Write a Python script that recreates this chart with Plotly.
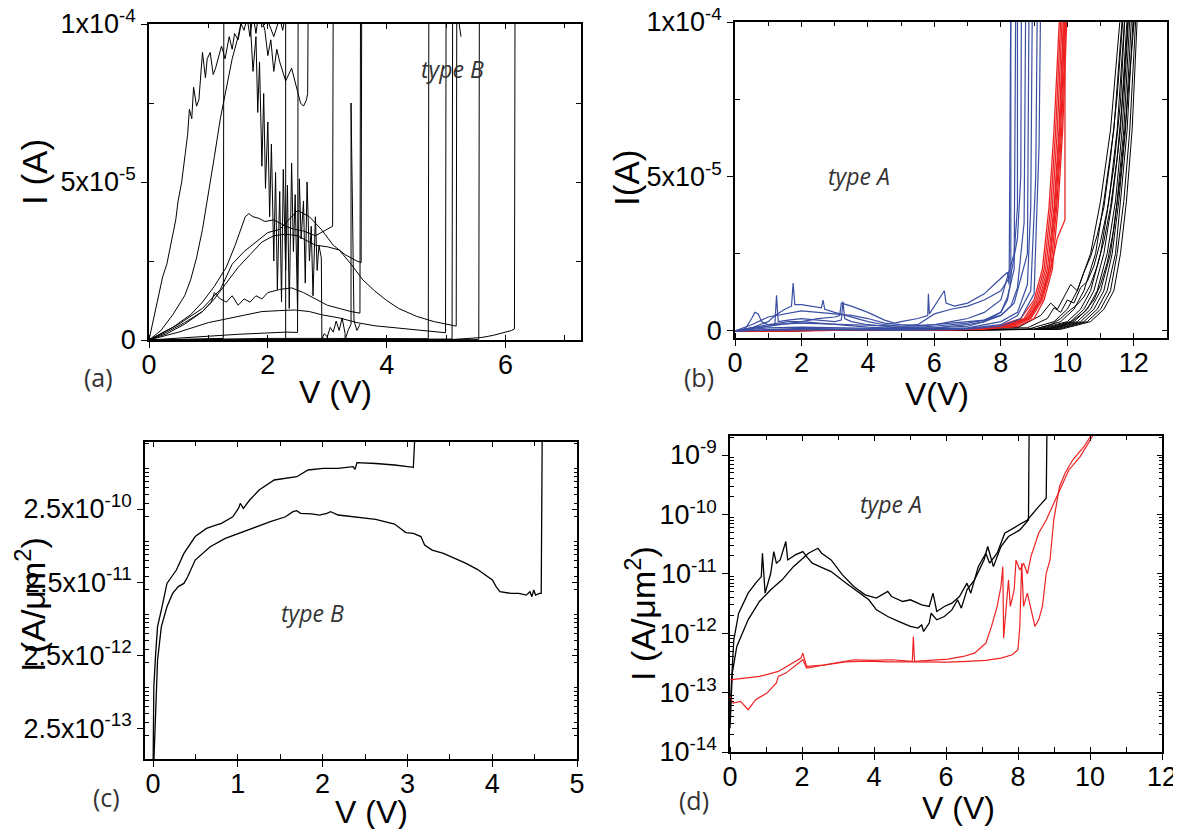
import plotly.graph_objects as go

W, H = 1181, 829          # reference picture size
OFF = 8                   # page body margin in the browser
FW, FH = W - OFF, H - OFF
TICKFONT = "Liberation Sans, Arial, sans-serif"
NOTEFONT = "Open Sans, Noto Sans, sans-serif"
BLACK = "#000000"
BLUE = "#3a4fa3"
RED = "#ee2222"

# ---------------- panel (a): type B, I in units of 1e-5 A ----------------
UNIT_A = 1e-5
a1_v = [0, 0.1, 0.23, 0.3, 0.39, 0.45, 0.49, 0.55, 0.61, 0.65, 0.68, 0.72, 0.75, 0.8, 0.84, 0.88, 0.9, 0.95, 0.98, 1.03, 1.08, 1.12, 1.17, 1.22, 1.28, 1.35, 1.4, 1.44, 1.5, 1.55, 1.6, 1.65, 1.7, 1.75, 1.8, 1.85, 1.9, 2.0, 2.1, 2.2, 2.25, 2.3, 2.3]
a1_i = [0, 0.9, 2.0, 2.4, 3.2, 3.8, 4.4, 5.0, 5.9, 6.5, 7.3, 7.0, 8.0, 7.4, 7.6, 8.8, 9.1, 8.3, 8.9, 9.1, 8.4, 8.6, 9.0, 9.3, 8.9, 9.6, 9.2, 9.7, 9.5, 10.0, 9.8, 10.2, 9.6, 10.3, 9.7, 10.4, 9.9, 10.1, 9.6, 10.2, 9.8, 10.3, 0]
a2_v = [0, 0.2, 0.4, 0.6, 0.7, 0.8, 0.9, 1.0, 1.1, 1.2, 1.3, 1.4, 1.5, 1.6]
a2_i = [0, 0.3, 0.8, 1.4, 1.9, 2.6, 3.5, 4.6, 5.8, 7.0, 8.0, 8.9, 9.6, 10.5]
a3_v = [0, 0.4, 0.7, 0.9, 1.1, 1.3, 1.45, 1.55, 1.62, 1.68, 1.75, 1.85, 1.95, 2.1, 2.3, 2.45, 2.6, 2.8, 3.0, 3.09, 3.1]
a3_i = [0, 0.4, 0.8, 1.2, 1.7, 2.3, 3.0, 3.5, 3.9, 4.0, 3.9, 3.85, 3.75, 3.8, 3.6, 3.5, 3.45, 3.3, 3.5, 3.6, 11]
a4_v = [0, 0.5, 0.9, 1.2, 1.4, 1.6, 1.8, 2.0, 2.2, 2.4, 2.5, 2.7, 2.9, 3.1, 3.3, 3.5, 3.57, 3.58]
a4_i = [0, 0.5, 1.0, 1.6, 2.4, 2.8, 3.1, 3.4, 3.5, 3.9, 4.1, 3.9, 3.5, 3.0, 2.7, 2.5, 2.45, 11]
a5_v = [0, 0.3, 0.6, 0.9, 1.1, 1.3, 1.5, 1.7, 1.9, 2.1, 2.3, 2.5, 2.8, 3.0, 3.2, 3.4, 3.6, 3.8, 4.0, 4.2, 4.5, 4.8, 5.0, 5.17, 5.18]
a5_i = [0, 0.2, 0.5, 0.9, 1.3, 1.8, 2.3, 2.7, 3.1, 3.3, 3.35, 3.3, 3.0, 2.95, 2.85, 2.4, 1.9, 1.55, 1.25, 1.0, 0.75, 0.58, 0.5, 0.44, 11]
a6_v = [0, 0.3, 0.6, 0.9, 1.05, 1.1, 1.2, 1.3, 1.4, 1.5, 1.6, 1.7, 1.8, 1.9, 2.0, 2.2, 2.4, 2.6, 2.8, 3.0, 3.2, 3.4, 3.55, 3.56]
a6_i = [0, 0.25, 0.55, 0.9, 1.2, 1.5, 1.3, 1.2, 1.4, 1.1, 1.3, 1.2, 1.4, 1.3, 1.5, 1.6, 1.65, 1.5, 1.3, 1.1, 1.0, 0.9, 0.85, 11]
a7_v = [0, 0.5, 1.0, 1.5, 1.9, 2.2, 2.45, 2.7, 2.9, 3.2, 3.5, 3.8, 4.2, 4.6, 4.99, 5.0]
a7_i = [0, 0.25, 0.55, 0.75, 0.9, 0.93, 0.95, 0.9, 0.8, 0.7, 0.55, 0.45, 0.37, 0.3, 0.23, 11]
a8_v = [0, 0.5, 1.0, 1.5, 2.0, 2.3, 2.5, 2.51]
a8_i = [0, 0.05, 0.12, 0.18, 0.22, 0.25, 0.24, 11]
a9_v = [0, 0.6, 1.0, 1.25, 1.26]
a9_i = [0, 0.02, 0.04, 0.05, 11]
a10_v = [0, 1, 2, 3, 4, 4.7, 4.71]
a10_i = [0, 0.03, 0.05, 0.05, 0.04, 0.04, 11]
a11_v = [0, 2, 4, 5, 5.55, 5.56]
a11_i = [0, 0.01, 0.01, 0.02, 0.02, 11]
a12_v = [0, 2, 3, 4, 4.5, 5.0, 5.3, 5.6, 5.8, 6.0, 6.1, 6.15, 6.16]
a12_i = [0, 0.01, 0.0, 0.01, 0.01, 0.0, 0.05, 0.08, 0.15, 0.25, 0.3, 0.35, 11]
a13_v = [0, 3, 5.1, 5.11]
a13_i = [0, 0.02, 0.03, 11]
a14_v = [1.85, 1.95, 2.0, 2.05, 2.1, 2.15, 2.2, 2.3, 2.4, 2.5, 2.55, 2.6, 2.65, 2.67, 2.68]
a14_i = [10.5, 9.8, 9.0, 9.5, 8.5, 9.2, 8.8, 8.2, 8.6, 7.9, 7.5, 7.4, 7.6, 7.8, 11]
a15_v = [1.7, 1.75, 1.8, 1.83, 1.86, 1.9, 1.93, 1.96, 2.0, 2.03, 2.06, 2.1, 2.13, 2.16, 2.2, 2.23, 2.26, 2.3, 2.33, 2.36, 2.4, 2.43, 2.46, 2.5, 2.53, 2.56, 2.6, 2.63, 2.66, 2.7, 2.73, 2.76, 2.8, 2.83, 2.86, 2.9, 2.91]
a15_i = [10.2, 8.5, 9.6, 7.2, 8.8, 5.5, 7.8, 4.8, 6.9, 3.9, 6.2, 2.5, 5.3, 1.6, 4.7, 1.2, 5.4, 2.2, 4.9, 1.0, 5.6, 2.8, 4.6, 0.9, 5.1, 3.2, 4.4, 1.8, 5.0, 2.5, 3.6, 1.4, 3.9, 2.2, 3.0, 2.6, 0]
a16_v = [2.9, 2.95, 3.0, 3.05, 3.1, 3.15, 3.2, 3.25, 3.3, 3.3, 3.35, 3.4, 3.4, 3.45, 3.5, 3.55]
a16_i = [0, 0.2, 0.1, 0.4, 0.25, 0.6, 0.3, 0.7, 0.2, 0, 0.3, 0.5, 7.5, 0.6, 0.3, 0.5]
a17_v = [5.2, 5.22, 5.25]
a17_i = [10.5, 10.0, 9.6]

# ---------------- panel (b): type A, I in units of 1e-5 A ----------------
blk_levels = [0, 0.05, 0.3, 0.7, 1.3, 2.5, 4.2, 6.5, 10.5]
k1_v = [0, 8.8, 9.6, 10.0, 10.3, 10.7, 11.0, 11.3, 11.62]
k2_v = [0, 9.0, 9.8, 10.2, 10.5, 10.85, 11.1, 11.4, 11.68]
k3_v = [0, 9.1, 10.0, 10.4, 10.7, 11.0, 11.25, 11.5, 11.75]
k4_v = [0, 9.2, 10.1, 10.5, 10.8, 11.1, 11.35, 11.6, 11.82]
k5_v = [0, 9.3, 10.2, 10.6, 10.9, 11.2, 11.45, 11.65, 11.86]
k6_v = [0, 9.4, 10.3, 10.7, 11.0, 11.3, 11.5, 11.7, 11.9]
k7_v = [0, 9.5, 10.4, 10.8, 11.1, 11.35, 11.55, 11.75, 11.95]
k8_v = [0, 9.6, 10.5, 10.9, 11.2, 11.45, 11.6, 11.8, 12.0]
k9_v = [0, 9.7, 10.6, 11.0, 11.3, 11.5, 11.7, 11.88, 12.08]
k10_v = [0, 9.8, 10.7, 11.1, 11.4, 11.6, 11.78, 11.95, 12.12]
k11_v = [0, 8.5, 9.2, 9.5, 9.7, 9.9, 10.1, 10.3, 10.5, 10.7, 10.9, 11.1, 11.3, 11.5, 11.7]
k11_i = [0, 0.1, 0.5, 0.9, 0.7, 1.1, 1.5, 1.3, 1.9, 2.4, 3.1, 4.0, 5.6, 7.6, 10.5]
k12_v = [0, 8.8, 9.4, 9.6, 9.8, 10.0, 10.2, 10.4, 10.6, 10.8, 11.0, 11.2, 11.4, 11.6, 11.75]
k12_i = [0, 0.1, 0.4, 0.75, 0.6, 1.0, 0.9, 1.4, 1.6, 2.1, 2.9, 3.9, 5.3, 7.4, 10.5]
k13_v = [0, 9.0, 9.5, 9.8, 10.0, 10.3, 10.5, 10.7, 10.9, 11.1, 11.3, 11.5, 11.7, 11.85]
k13_i = [0, 0.05, 0.2, 0.4, 0.6, 0.85, 1.1, 1.5, 2.1, 2.9, 4.0, 5.6, 8.0, 10.5]
k14_v = [0, 9.3, 9.8, 10.2, 10.5, 10.8, 11.0, 11.2, 11.4, 11.6, 11.8, 11.95, 12.05]
k14_i = [0, 0.05, 0.15, 0.35, 0.6, 1.0, 1.5, 2.2, 3.3, 5.0, 7.3, 9.3, 10.5]

red_levels = [0, 0.05, 0.15, 0.4, 1.0, 2.0, 4.0, 6.5, 10.5]
r1_v = [0, 6.8, 7.9, 8.6, 9.0, 9.25, 9.45, 9.6, 9.78]
r2_v = [0, 6.9, 8.0, 8.7, 9.05, 9.3, 9.5, 9.65, 9.82]
r3_v = [0, 7.0, 8.1, 8.75, 9.1, 9.35, 9.55, 9.7, 9.86]
r4_v = [0, 7.1, 8.2, 8.8, 9.15, 9.4, 9.6, 9.75, 9.9]
r5_v = [0, 7.2, 8.3, 8.85, 9.2, 9.45, 9.65, 9.8, 9.94]
r6_v = [0, 7.3, 8.4, 8.9, 9.25, 9.5, 9.68, 9.83, 9.97]
r7_v = [0, 7.0, 8.0, 8.8, 9.2, 9.45, 9.62, 9.77, 9.92]
r8_v = [0, 7.4, 8.5, 9.0, 9.3, 9.55, 9.72, 9.86, 10.0]
r9_v = [0, 7.0, 8.2, 8.9, 9.2, 9.5, 9.7, 9.9, 9.93, 9.93]
r9_i = [0, 0.05, 0.15, 0.45, 1.0, 2.0, 3.0, 3.5, 3.6, 11]

u1_v = [0, 0.3, 0.5, 0.6, 0.7, 0.8, 1.0, 1.3, 1.6, 2.0, 2.5, 3.0, 3.5, 4.0, 4.5, 5.0, 5.5, 6.0, 6.5, 7.0, 7.5, 8.0, 8.2, 8.3, 8.3]
u1_i = [0, 0.05, 0.4, 0.6, 0.55, 0.3, 0.2, 0.25, 0.3, 0.3, 0.25, 0.2, 0.15, 0.12, 0.1, 0.1, 0.12, 0.15, 0.2, 0.25, 0.35, 0.6, 1.0, 1.6, 11]
u2_v = [0, 0.5, 1.0, 1.2, 1.5, 1.7, 1.75, 1.8, 2.0, 2.3, 2.6, 2.65, 2.7, 3.0, 3.5, 4.0, 4.5, 5.0, 5.5, 6.0, 6.5, 7.0, 7.5, 8.0, 8.4, 8.5, 8.5]
u2_i = [0, 0.1, 0.3, 0.5, 0.7, 0.8, 1.55, 0.85, 0.85, 0.8, 0.75, 1.0, 0.7, 0.6, 0.45, 0.3, 0.2, 0.15, 0.15, 0.2, 0.3, 0.4, 0.6, 1.0, 2.5, 4.0, 11]
u3_v = [0, 1, 2, 2.5, 3.0, 3.15, 3.2, 3.5, 4.0, 4.5, 4.8, 5.0, 5.5, 5.8, 5.82, 5.85, 6.0, 6.25, 6.3, 6.35, 6.6, 7.0, 7.5, 7.8, 8.0, 8.2, 8.25, 8.3]
u3_i = [0, 0.15, 0.3, 0.4, 0.45, 0.5, 0.9, 0.8, 0.6, 0.35, 0.25, 0.3, 0.4, 0.5, 1.2, 0.55, 0.8, 1.2, 1.3, 0.9, 0.8, 0.9, 1.2, 1.5, 1.7, 1.9, 1.5, 11]
u4_v = [0, 1, 2, 3, 4, 5, 5.5, 6.0, 6.5, 7.0, 7.5, 8.0, 8.3, 8.5, 8.6, 8.62]
u4_i = [0, 0.2, 0.25, 0.22, 0.18, 0.15, 0.2, 0.55, 0.7, 0.8, 1.0, 1.3, 1.8, 3.0, 5.0, 11]
u5_v = [0, 1, 2, 3, 4, 5, 6, 7, 7.5, 8, 8.3, 8.5, 8.7, 8.75]
u5_i = [0, 0.1, 0.12, 0.1, 0.08, 0.07, 0.1, 0.2, 0.3, 0.5, 0.8, 1.4, 3.5, 11]
u6_v = [0, 1, 2, 3, 4, 5, 6, 7, 8, 8.5, 8.8, 8.9, 8.95]
u6_i = [0, 0.05, 0.08, 0.07, 0.06, 0.05, 0.06, 0.1, 0.3, 0.6, 1.5, 4, 11]
u7_v = [0, 1, 2, 3, 4, 5, 6, 7, 8, 8.5, 8.9, 9.05, 9.1]
u7_i = [0, 0.04, 0.05, 0.05, 0.04, 0.04, 0.05, 0.08, 0.2, 0.5, 1.3, 5, 11]
u8_v = [0, 1, 2, 3, 4, 5, 6, 7, 8, 8.6, 9.0, 9.15, 9.2]
u8_i = [0, 0.02, 0.03, 0.03, 0.02, 0.02, 0.03, 0.06, 0.15, 0.4, 1.2, 6, 11]
u9_v = [0, 0.5, 1.0, 1.2, 1.25, 1.3, 1.6, 2.0, 2.5, 3.0, 3.2, 3.25, 3.3, 3.5, 4.0, 4.5, 5, 6, 7, 7.5, 8, 8.2, 8.4, 8.45]
u9_i = [0, 0.1, 0.15, 0.2, 1.15, 0.3, 0.35, 0.4, 0.35, 0.3, 0.35, 0.95, 0.4, 0.3, 0.2, 0.15, 0.1, 0.1, 0.15, 0.3, 0.6, 1.1, 2, 11]
u10_v = [0, 0.5, 1.0, 1.5, 2.0, 2.5, 3.0, 3.5, 4.0, 4.5, 5, 5.5, 6, 6.5, 7, 7.5, 8, 8.4, 8.8, 8.85]
u10_i = [0, 0.2, 0.45, 0.55, 0.65, 0.6, 0.55, 0.5, 0.4, 0.25, 0.2, 0.18, 0.2, 0.25, 0.3, 0.35, 0.5, 0.9, 2.5, 11]

# ---------------- panel (c): type B, I in A/um^2 ----------------
c1_v = [0.0, 0.009, 0.031, 0.053, 0.098, 0.164, 0.275, 0.364, 0.497, 0.63, 0.741, 0.807, 0.94, 1.007, 1.029, 1.065, 1.14, 1.251, 1.429, 1.562, 1.695, 1.828, 2.005, 2.183, 2.36, 2.382, 2.405, 2.626, 2.848, 3.07, 3.092]
c1_i = [6.3e-14, 9.3e-13, 2.65e-12, 6.14e-12, 1.04e-11, 2.40e-11, 3.66e-11, 6.18e-11, 1.05e-10, 1.36e-10, 1.51e-10, 1.59e-10, 1.96e-10, 2.55e-10, 2.99e-10, 2.55e-10, 3.32e-10, 4.55e-10, 6.24e-10, 6.58e-10, 6.92e-10, 8.55e-10, 8.99e-10, 8.99e-10, 9.48e-10, 8.73e-10, 1.08e-9, 1.05e-9, 1.0e-9, 9.29e-10, 3.2e-9]
c2_v = [0.005, 0.031, 0.053, 0.098, 0.164, 0.231, 0.297, 0.364, 0.408, 0.497, 0.674, 0.852, 1.007, 1.207, 1.384, 1.562, 1.65, 1.695, 1.739, 1.872, 1.961, 2.05, 2.094, 2.183, 2.405, 2.626, 2.848, 2.981, 3.07, 3.159, 3.203, 3.292, 3.425, 3.602, 3.691, 3.824, 3.957, 4.002, 4.046, 4.09, 4.224, 4.312, 4.401, 4.445, 4.468, 4.49, 4.512, 4.556, 4.578, 4.59]
c2_i = [6.3e-14, 5.48e-13, 2.15e-12, 6.14e-12, 1.15e-11, 1.75e-11, 2.17e-11, 2.40e-11, 2.96e-11, 5.01e-11, 7.63e-11, 9.93e-11, 1.16e-10, 1.43e-10, 1.68e-10, 1.96e-10, 2.30e-10, 2.37e-10, 2.18e-10, 2.14e-10, 2.07e-10, 2.18e-10, 2.30e-10, 2.07e-10, 1.92e-10, 1.81e-10, 1.56e-10, 1.19e-10, 1.16e-10, 1.05e-10, 8.05e-11, 6.87e-11, 6.18e-11, 5.01e-11, 4.52e-11, 3.74e-11, 2.96e-11, 2.67e-11, 2.17e-11, 1.85e-11, 1.75e-11, 1.75e-11, 1.66e-11, 1.85e-11, 1.58e-11, 1.95e-11, 1.66e-11, 1.75e-11, 1.75e-11, 3.0e-9]

# ---------------- panel (d): type A, I in A/um^2 ----------------
dA_v = [0, 0.05, 0.105, 0.241, 0.503, 0.713, 0.87, 0.901, 0.975, 1.132, 1.216, 1.289, 1.394, 1.551, 1.604, 1.813, 2.023, 2.128, 2.285, 2.495, 2.809, 3.229, 3.543, 3.857, 4.067, 4.382, 4.696, 5.01, 5.22, 5.325, 5.377, 5.535, 5.587, 5.744, 5.954, 6.164, 6.321, 6.426, 6.583, 6.792, 7.055, 7.159, 7.317, 7.526, 7.736, 8.05, 8.291, 8.31]
dA_i = [5.0e-14, 1.64e-13, 7.74e-13, 2.17e-12, 4.72e-12, 6.95e-12, 8.99e-12, 2.22e-11, 4.72e-12, 1.02e-11, 2.37e-11, 1.51e-11, 1.71e-11, 3.49e-11, 1.71e-11, 2.08e-11, 2.37e-11, 1.95e-11, 1.51e-11, 1.32e-11, 1.09e-11, 6.95e-12, 5.04e-12, 3.65e-12, 2.47e-12, 1.91e-12, 1.57e-12, 1.30e-12, 1.22e-12, 1.38e-12, 1.07e-12, 1.48e-12, 2.17e-12, 1.68e-12, 1.91e-12, 2.47e-12, 3.65e-12, 2.64e-12, 5.37e-12, 7.91e-12, 1.71e-11, 2.88e-11, 1.32e-11, 2.88e-11, 4.24e-11, 5.48e-11, 8.07e-11, 3.0e-9]
dB_v = [0, 0.063, 0.189, 0.503, 0.818, 1.132, 1.447, 1.761, 1.971, 2.18, 2.442, 2.547, 2.809, 3.124, 3.438, 3.753, 4.067, 4.382, 4.486, 4.801, 5.01, 5.325, 5.535, 5.639, 5.744, 5.954, 6.164, 6.373, 6.583, 6.688, 6.897, 7.107, 7.212, 7.421, 7.631, 7.945, 8.26, 8.574, 8.784, 8.805]
dB_i = [2.5e-14, 2.13e-13, 5.98e-13, 1.68e-12, 3.42e-12, 5.37e-12, 7.91e-12, 1.32e-11, 1.71e-11, 2.22e-11, 2.69e-11, 2.22e-11, 1.71e-11, 9.59e-12, 6.11e-12, 4.43e-12, 3.89e-12, 5.04e-12, 4.15e-12, 3.42e-12, 3.65e-12, 3.01e-12, 2.82e-12, 4.72e-12, 2.32e-12, 2.82e-12, 3.21e-12, 4.15e-12, 6.95e-12, 4.72e-12, 1.32e-11, 2.22e-11, 1.51e-11, 2.22e-11, 4.82e-11, 6.24e-11, 8.07e-11, 1.35e-10, 1.87e-10, 3.0e-9]
dR1_v = [0, 0.084, 0.294, 0.503, 0.713, 1.027, 1.289, 1.342, 1.551, 1.866, 2.023, 2.128, 2.39, 2.914, 3.438, 3.962, 4.486, 5.063, 5.094, 5.126, 5.535, 6.059, 6.478, 6.792, 7.002, 7.107, 7.264, 7.421, 7.526, 7.579, 7.6, 7.736, 7.788, 7.893, 7.945, 8.05, 8.155, 8.26, 8.365, 8.574, 8.784, 8.994, 9.203, 9.413, 9.727, 10.2]
dR1_i = [8.63e-14, 6.67e-14, 7.11e-14, 5.15e-14, 7.59e-14, 9.82e-14, 1.45e-13, 1.87e-13, 2.13e-13, 2.94e-13, 3.57e-13, 2.59e-13, 2.76e-13, 3.22e-13, 3.57e-13, 3.48e-13, 3.57e-13, 3.35e-13, 8.81e-13, 3.35e-13, 3.48e-13, 3.66e-13, 4.06e-13, 4.62e-13, 5.98e-13, 6.81e-13, 1.30e-12, 2.82e-12, 6.11e-12, 1.32e-11, 8.26e-13, 7.91e-12, 2.82e-12, 5.37e-12, 1.71e-11, 1.16e-11, 1.51e-11, 1.0e-11, 2.0e-11, 4.82e-11, 8.07e-11, 1.54e-10, 2.93e-10, 5.60e-10, 9.38e-10, 2.8e-9]
dR2_v = [0, 0.818, 1.342, 1.761, 1.971, 2.02, 2.128, 2.6, 3.2, 3.8, 4.4, 5.0, 5.535, 6.059, 6.583, 7.107, 7.526, 7.841, 7.998, 8.05, 8.103, 8.155, 8.26, 8.365, 8.47, 8.574, 8.679, 8.784, 8.889, 8.994, 9.151, 9.308, 9.518, 9.832, 10.1]
dR2_i = [1.64e-13, 1.87e-13, 2.27e-13, 3.14e-13, 3.81e-13, 4.62e-13, 2.76e-13, 2.9e-13, 3.3e-13, 3.4e-13, 3.3e-13, 3.3e-13, 3.26e-13, 3.26e-13, 3.35e-13, 3.48e-13, 3.81e-13, 4.34e-13, 5.26e-13, 1.30e-12, 1.51e-11, 2.82e-12, 4.72e-12, 2.47e-12, 1.30e-12, 1.68e-12, 2.82e-12, 1.02e-11, 1.71e-11, 8.07e-11, 2.93e-10, 4.92e-10, 8.24e-10, 1.38e-9, 2.5e-9]

# ---------------- axis ticks ----------------
lin_tickvals = [0, 5e-5, 1e-4]
lin_ticktext = ["0", "5x10<sup>-5</sup>", "1x10<sup>-4</sup>"]
lin_minor = [2.5e-5, 7.5e-5]
c_tickvals = [2.5e-13, 2.5e-12, 2.5e-11, 2.5e-10]
c_ticktext = ["2.5x10<sup>-13</sup>", "2.5x10<sup>-12</sup>", "2.5x10<sup>-11</sup>", "2.5x10<sup>-10</sup>"]
d_tickvals = [1e-14, 1e-13, 1e-12, 1e-11, 1e-10, 1e-9]
d_ticktext = ["10<sup>-14</sup>", "10<sup>-13</sup>", "10<sup>-12</sup>", "10<sup>-11</sup>", "10<sup>-10</sup>", "10<sup>-9</sup>"]
log_minor = [k * 10.0 ** e for e in range(-15, -7) for k in range(2, 10)]

fig = go.Figure()


def add(xa, ya, v, i, color, width=1.0, scale=1.0):
    fig.add_trace(go.Scatter(x=v, y=[q * scale for q in i], mode="lines", xaxis=xa, yaxis=ya,
                             line=dict(color=color, width=width), showlegend=False, hoverinfo="skip"))


# panel (a)
for v, i in [(a1_v, a1_i), (a2_v, a2_i), (a3_v, a3_i), (a4_v, a4_i), (a5_v, a5_i), (a6_v, a6_i),
             (a7_v, a7_i), (a8_v, a8_i), (a9_v, a9_i), (a10_v, a10_i), (a11_v, a11_i), (a12_v, a12_i),
             (a13_v, a13_i), (a14_v, a14_i), (a15_v, a15_i), (a16_v, a16_i), (a17_v, a17_i)]:
    add("x", "y", v, i, BLACK, 1.0, UNIT_A)

# panel (b)
for v in [k1_v, k2_v, k3_v, k4_v, k5_v, k6_v, k7_v, k8_v, k9_v, k10_v]:
    add("x2", "y2", v, blk_levels, BLACK, 1.0, UNIT_A)
for v, i in [(k11_v, k11_i), (k12_v, k12_i), (k13_v, k13_i), (k14_v, k14_i)]:
    add("x2", "y2", v, i, BLACK, 1.0, UNIT_A)
for v in [r1_v, r2_v, r3_v, r4_v, r5_v, r6_v, r7_v, r8_v]:
    add("x2", "y2", v, red_levels, RED, 1.3, UNIT_A)
add("x2", "y2", r9_v, r9_i, RED, 1.3, UNIT_A)
for v, i in [(u1_v, u1_i), (u2_v, u2_i), (u3_v, u3_i), (u4_v, u4_i), (u5_v, u5_i), (u6_v, u6_i),
             (u7_v, u7_i), (u8_v, u8_i), (u9_v, u9_i), (u10_v, u10_i)]:
    add("x2", "y2", v, i, BLUE, 1.2, UNIT_A)

# panel (c)
add("x3", "y3", c1_v, c1_i, BLACK, 1.3)
add("x3", "y3", c2_v, c2_i, BLACK, 1.3)

# panel (d)
add("x4", "y4", dA_v, dA_i, BLACK, 1.3)
add("x4", "y4", dB_v, dB_i, BLACK, 1.3)
add("x4", "y4", dR2_v, dR2_i, RED, 1.2)
add("x4", "y4", dR1_v, dR1_i, RED, 1.2)

# empty traces that switch on the mirrored (top / right) tick axes
for xa, ya in [("x5", "y"), ("x", "y5"), ("x6", "y2"), ("x2", "y6"),
               ("x7", "y3"), ("x3", "y7"), ("x8", "y4"), ("x4", "y8")]:
    fig.add_trace(go.Scatter(x=[None], y=[None], xaxis=xa, yaxis=ya, mode="lines",
                             showlegend=False, hoverinfo="skip"))


def px(x):
    return (x - OFF) / FW


def py(y):
    return 1 - (y - OFF) / FH


tickfont = dict(family=TICKFONT, size=27, color="black")
common = dict(showline=True, linecolor="black", linewidth=1.5, mirror=True, showgrid=False,
              zeroline=False, tickfont=tickfont, tickcolor="black", ticklen=6, tickwidth=1.2,
              ticks="outside", automargin=False, ticklabeloverflow="allow")
ghost = dict(showline=False, showgrid=False, zeroline=False, showticklabels=False, ticks="inside",
             ticklen=5, tickwidth=1.2, tickcolor="black", automargin=False)


def xlin(rng, dtick, mdtick, dom, anchor):
    return dict(common, range=rng, domain=dom, anchor=anchor, tickmode="linear", tick0=0, dtick=dtick,
                ticklabelstandoff=-6,
                minor=dict(tickmode="linear", tick0=0, dtick=mdtick, ticks="inside", ticklen=5,
                           tickcolor="black", showgrid=False))


def xtop(base, anchor, rng, dtick, mdtick):
    return dict(ghost, overlaying=base, anchor=anchor, side="top", range=rng, tickmode="linear",
                tick0=0, dtick=dtick,
                minor=dict(tickmode="linear", tick0=0, dtick=mdtick, ticks="inside", ticklen=4,
                           tickcolor="black", showgrid=False))


def yright(base, anchor, rng, typ, tickvals, minorvals, mlen):
    return dict(ghost, overlaying=base, anchor=anchor, side="right", range=rng, type=typ,
                tickmode="array", tickvals=tickvals,
                minor=dict(tickvals=minorvals, ticks="inside", ticklen=mlen, tickcolor="black",
                           showgrid=False))


fig.update_layout(
    template="none",
    width=FW, height=FH, margin=dict(l=0, r=0, t=0, b=0, autoexpand=False),
    paper_bgcolor="white", plot_bgcolor="white",
    xaxis=xlin([0, 7.27], 2, 1, [px(149), px(581)], "y"),
    yaxis=dict(common, range=[0, 1e-4], domain=[py(340), py(24)], anchor="x",
               tickmode="array", tickvals=lin_tickvals, ticktext=lin_ticktext,
               minor=dict(tickvals=lin_minor, ticks="inside", ticklen=5, tickcolor="black")),
    xaxis2=xlin([0, 13.0], 2, 1, [px(735), px(1167)], "y2"),
    yaxis2=dict(common, range=[-2.3e-6, 1e-4], domain=[py(338), py(22)], anchor="x2",
                tickmode="array", tickvals=lin_tickvals, ticktext=lin_ticktext,
                minor=dict(tickvals=lin_minor, ticks="inside", ticklen=5, tickcolor="black")),
    xaxis3=xlin([-0.095, 5.0], 1, 0.5, [px(145), px(577)], "y3"),
    yaxis3=dict(common, type="log", range=[-13.022, -8.685], domain=[py(759), py(442)], anchor="x3",
                tickmode="array", tickvals=c_tickvals, ticktext=c_ticktext,
                minor=dict(tickvals=log_minor, ticks="inside", ticklen=4, tickcolor="black")),
    xaxis4=xlin([0, 12], 2, 1, [px(730), px(1162)], "y4"),
    yaxis4=dict(common, type="log", range=[-14, -8.68], domain=[py(752), py(436)], anchor="x4",
                tickmode="array", tickvals=d_tickvals, ticktext=d_ticktext,
                minor=dict(tickvals=log_minor, ticks="inside", ticklen=4, tickcolor="black")),
    # mirrored tick axes (ticks pointing into the frame)
    xaxis5=xtop("x", "y", [0, 7.27], 2, 1),
    yaxis5=yright("y", "x", [0, 1e-4], "linear", lin_tickvals, lin_minor, 5),
    xaxis6=xtop("x2", "y2", [0, 13.0], 2, 1),
    yaxis6=yright("y2", "x2", [-2.3e-6, 1e-4], "linear", lin_tickvals, lin_minor, 5),
    xaxis7=xtop("x3", "y3", [-0.095, 5.0], 1, 0.5),
    yaxis7=yright("y3", "x3", [-13.022, -8.685], "log", c_tickvals, log_minor, 3),
    xaxis8=xtop("x4", "y4", [0, 12], 2, 1),
    yaxis8=yright("y4", "x4", [-14, -8.68], "log", d_tickvals, log_minor, 3),
)

ann = []


def text(x, y, s, size, family=TICKFONT, angle=0, color="black"):
    ann.append(dict(xref="paper", yref="paper", x=px(x), y=py(y), text=s, showarrow=False,
                    textangle=angle, xanchor="center", yanchor="middle",
                    font=dict(family=family, size=size, color=color)))


# axis titles
text(335, 392, "V (V)", 32)
text(35, 172, "I (A)", 35, angle=-90)
text(626, 178, "I(A)", 35, angle=-90)
text(937, 394, "V(V)", 32)
text(30, 605, "I (A/μm<sup>2</sup>)", 34, angle=-90)
text(372, 812, "V (V)", 32)
text(640, 614, "I (A/μm<sup>2</sup>)", 34, angle=-90)
text(958, 808, "V (V)", 32)
# panel letters
text(98, 377, "(a)", 25, NOTEFONT, color="#333333")
text(699, 377, "(b)", 25, NOTEFONT, color="#333333")
text(106, 797, "(c)", 25, NOTEFONT, color="#333333")
text(694, 800, "(d)", 25, NOTEFONT, color="#333333")
# type labels
text(452, 69, "<i>type B</i>", 23, NOTEFONT, color="#333333")
text(859, 176, "<i>type A</i>", 23, NOTEFONT, color="#333333")
text(312, 613, "<i>type B</i>", 23, NOTEFONT, color="#333333")
text(891, 504, "<i>type A</i>", 23, NOTEFONT, color="#333333")

fig.update_layout(annotations=ann)
fig.write_html("out.html")
